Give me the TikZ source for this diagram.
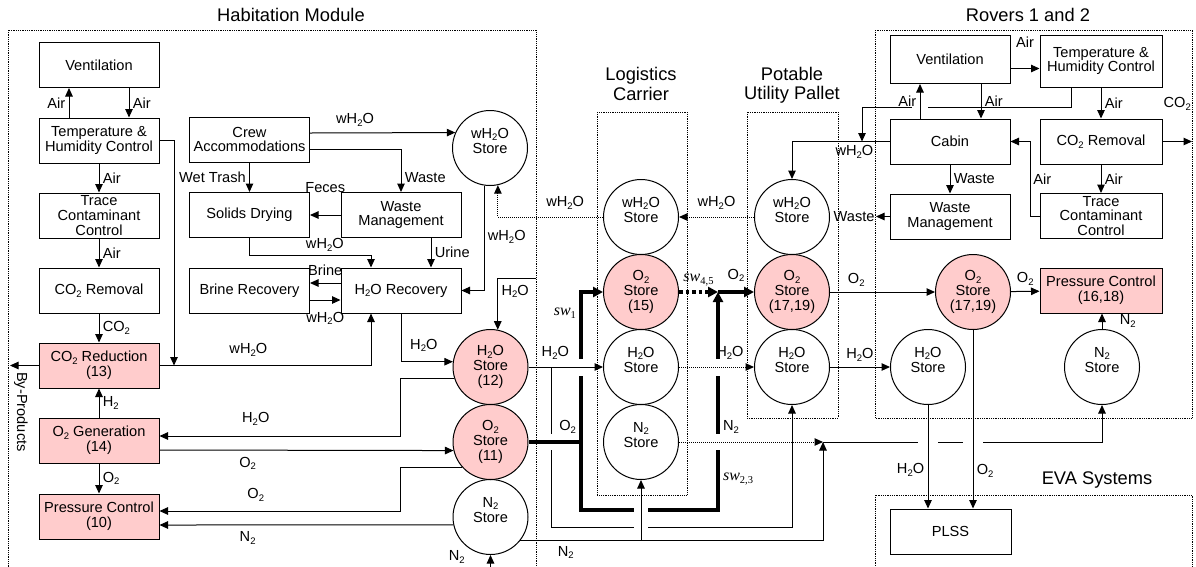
\documentclass[tikz,border=0pt]{standalone}
\usepackage{fontspec}
\setmainfont{Liberation Sans}
\newfontfamily\swfont{Liberation Serif}
\usepackage{tikz}
\usetikzlibrary{arrows.meta}

\definecolor{rose}{RGB}{255,204,204}

% Indices chimiques et interrupteurs
\newcommand{\ind}[1]{\raisebox{-0.35ex}{\fontsize{9.5}{9.5}\selectfont #1}}
\newcommand{\eau}{H\ind{2}O}
\newcommand{\eaug}{wH\ind{2}O}
\newcommand{\oxy}{O\ind{2}}
\newcommand{\azote}{N\ind{2}}
\newcommand{\cdeux}{CO\ind{2}}
\newcommand{\hdeux}{H\ind{2}}
\newcommand{\sw}[1]{{\swfont\itshape\fontsize{16}{16}\selectfont sw}\raisebox{-0.4ex}{\swfont\fontsize{10.5}{10.5}\selectfont #1}}

\tikzset{
  boite/.style={draw, line width=1pt, minimum width=120pt, minimum height=45pt, align=center, inner sep=0pt},
  boiterose/.style={boite, fill=rose},
  stock/.style={circle, draw, line width=1pt, minimum size=75pt, inner sep=0pt, align=center},
  stockrose/.style={stock, fill=rose},
  zone/.style={draw, densely dotted, line width=0.8pt},
  titre/.style={align=center, font=\fontsize{18.3}{19.5}\selectfont},
  lien/.style={line width=1pt, -{Triangle[length=8.5pt,width=7.5pt]}},
  pointille/.style={lien, densely dotted},
  epais/.style={line width=3.5pt},
  lienepais/.style={epais, -{Triangle[length=10pt,width=10pt]}},
  tiretepais/.style={lienepais, dash pattern=on 3.5pt off 3pt},
  coupure/.style={draw=white, line width=5pt},
}

\begin{document}
\begin{tikzpicture}[x=1pt, y=-1pt, font=\fontsize{14.6}{14.9}\selectfont]
    \useasboundingbox (0,0) rectangle (1196,566);

    % Module d'habitation
    \node[titre] (thab) at (291,15) {Habitation Module};
    \draw[zone] (8,30) rectangle (536,600);

    \node[boite] (vent) at (99,65) {Ventilation};
    \node[boite] (temp) at (99,140.5) {Temperature \&\\Humidity Control};
    \node[boite] (trace) at (99,215.5) {Trace\\Contaminant\\Control};
    \node[boite] (corem) at (99,290.5) {\cdeux{} Removal};
    \node[boiterose] (cored) at (99,365.5) {\cdeux{} Reduction\\(13)};
    \node[boiterose] (ogen) at (99,440.5) {\oxy{} Generation\\(14)};
    \node[boiterose] (pres) at (99,516.5) {Pressure Control\\(10)};

    \node[boite] (crew) at (249.5,139.5) {Crew\\Accommodations};
    \node[boite] (solid) at (249.5,215) {Solids Drying};
    \node[boite] (dech) at (401,215) {Waste\\Management};
    \node[boite] (saum) at (249.5,290.5) {Brine Recovery};
    \node[boite] (recup) at (401,290.5) {\eau{} Recovery};

    \node[stock] (wst) at (490,148) {\eaug\\Store\\\mbox{}};
    \node[stockrose] (h12) at (490.5,367) {\eau\\Store\\(12)};
    \node[stockrose] (o11) at (490.5,442) {\oxy\\Store\\(11)};
    \node[stock] (n2h) at (490.5,517) {\azote\\Store\\\mbox{}};

    % Boucle d'air
    \draw[lien] ([xshift=-30pt]temp.north) -- ([xshift=-30pt]vent.south) node[midway,left]{Air};
    \draw[lien] ([xshift=30pt]vent.south) -- ([xshift=30pt]temp.north) node[midway,right]{Air};
    \draw[lien] (temp) -- (trace) node[midway,right]{Air};
    \draw[lien] (trace) -- (corem) node[midway,right]{Air};
    \draw[lien] (corem) -- (cored) node[midway,right]{\cdeux};
    \draw[lien] (ogen) -- (cored) node[midway,right]{\hdeux};
    \draw[lien] (ogen) -- (pres) node[midway,right]{\oxy};

    \coordinate (bp) at (10,365.5);
    \draw[lien] (cored.west) -- (bp);
    \node[rotate=-90] (sousprod) at (21,412) {By-Products};

    \coordinate (jt) at (174,365.5);
    \draw[lien] (temp.east) -| (jt);
    \draw[lien] (cored.east) -| ([xshift=-30pt]recup.south) node[pos=0.21, above=5pt]{\eaug};

    % Boucle de l'eau
    \draw[lien] ([yshift=6.5pt]crew.east) -- (wst.156) node[pos=0.31, above=3pt]{\eaug};
    \draw[lien] ([yshift=-9.5pt]crew.east) -| (dech.north) node[pos=0.83, right]{Waste};
    \draw[lien] (crew) -- (solid) node[midway, left]{Wet Trash};
    \draw[lien] (dech) -- (solid) node[midway, above=19pt]{Feces};
    \draw[lien] (solid.south) -- ++(0,17) -| ([xshift=-30pt]recup.north) node[pos=0.31, above]{\eaug};
    \draw[lien] ([xshift=30pt]dech.south) -- ([xshift=30pt]recup.north) node[midway, right]{Urine};
    \draw[lien] ([yshift=7.5pt]recup.west) -- ([yshift=7.5pt]saum.east) node[midway, above=4pt]{Brine};
    \draw[lien] ([yshift=-9.5pt]saum.east) -- ([yshift=-9.5pt]recup.west) node[midway, below=8pt]{\eaug};
    \draw[lien] (wst.261) |- (recup.east) node[pos=0.245, right]{\eaug};
    \draw[lien] (recup.south) |- (h12.172) node[pos=0.72, above=6pt]{\eau};

    \coordinate (eh) at (536,278);
    \draw[lien] (eh) -| (h12.79) node[pos=0.63, right]{\eau};

    % Vers les stocks
    \draw[lien] (h12.197) -- ++(-54,0) |- ([yshift=4.5pt]ogen.east) node[pos=0.8, above=7pt]{\eau};
    \draw[lien] ([yshift=-9.5pt]ogen.east) -- (o11.193) node[pos=0.3, below=3pt]{\oxy};
    \draw[lien] (o11.222) -- ++(-62,0) |- ([yshift=5.5pt]pres.east) node[pos=0.8, above=6pt]{\oxy};
    \draw[lien] (n2h.192) -- ([yshift=-8.5pt]pres.east) node[pos=0.7, below=3pt]{\azote};

    \coordinate (en) at (490.5,575);
    \draw[lien] (en) -- (n2h.south) node[pos=0.9, left=22pt]{\azote};

    % Logistics Carrier
    \node[titre] (tlc) at (641,84) {Logistics\\Carrier};
    \draw[zone] (597,112) rectangle (687,495);
    \node[stock] (wlc) at (641,217) {\eaug\\Store\\\mbox{}};
    \node[stockrose] (o15) at (641,292) {\oxy\\Store\\(15)};
    \node[stock] (hlc) at (641,367) {\eau\\Store\\\mbox{}};
    \node[stock] (nlc) at (641,442) {\azote\\Store\\\mbox{}};

    % Potable Utility Pallet
    \node[titre] (tpup) at (792,85.5) {Potable\\Utility Pallet};
    \draw[zone] (747,112) rectangle (838,418);
    \node[stock] (wpup) at (792,217) {\eaug\\Store\\\mbox{}};
    \node[stockrose] (opup) at (792,292) {\oxy\\Store\\(17,19)};
    \node[stock] (hpup) at (792,367) {\eau\\Store\\\mbox{}};

    \draw[pointille] (wpup) -- (wlc) node[midway, above=4pt]{\eaug};
    \draw[pointille] (wlc.west) -| (wst.282) node[pos=0.18, above=4pt]{\eaug};

    % Interrupteurs et conduites croisees
    \coordinate (c1) at (581,442);
    \coordinate (c2) at (718,510);
    \coordinate (sw45) at (718,292);
    \coordinate (jh) at (551,367);
    \coordinate (jb) at (551,527);
    \coordinate (jn) at (823,442);

    \draw[lien] (jh) -- (jb) -| (hpup.south);
    \draw[coupure] (551,434) -- (551,450);

    \draw[epais] (o11.east) -- (c1);
    \draw[lienepais] (c1) |- (o15.west) node[pos=0.05, left]{\oxy} node[pos=0.43, left]{\sw{1}};
    \draw[lienepais] (c1) |- (c2) -- (sw45) node[pos=0.38, right]{\azote} node[pos=0.14, right]{\sw{2,3}};
    \draw[tiretepais] (o15) -- (sw45) node[midway, above=1pt]{\sw{4,5}};
    \draw[lienepais] (sw45) -- (opup) node[midway, above=5pt]{\oxy};

    \draw[coupure] (581,359) -- (581,376);
    \draw[coupure] (718,359) -- (718,376);
    \draw[coupure] (718,434) -- (718,450);
    \draw[coupure] (634,510) -- (648,510);
    \draw[coupure] (634,527) -- (648,527);

    \draw[lien] (h12) -- (hlc) node[pos=0.36, above=4pt]{\eau};
    \draw[pointille] (hlc) -- (hpup) node[pos=0.68, above=4pt]{\eau};
    \draw[lien] (n2h.322) -| (jn) node[pos=0.075, below=2pt]{\azote};
    \draw[lien] (nlc.south |- n2h.322) -- (nlc.south);
    \draw[pointille] (nlc) -- (jn);

    % Rovers 1 et 2
    \node[titre] (trov) at (1028,15) {Rovers 1 and 2};
    \draw[zone] (875,30) rectangle (1192,418);
    \node[boite, minimum height=48pt] (rvent) at (950,59.5) {Ventilation};
    \node[boite, minimum width=122pt, minimum height=52pt] (rtemp) at (1101,61) {Temperature \&\\Humidity Control};
    \node[boite] (cabin) at (950,141.5) {Cabin};
    \node[boite, minimum width=122pt] (rco2) at (1101,141.5) {\cdeux{} Removal};
    \node[boite] (rdech) at (950,216.5) {Waste\\Management};
    \node[boite, minimum width=122pt] (rtrace) at (1101,216) {Trace\\Contaminant\\Control};
    \node[boiterose, minimum width=122pt] (pres2) at (1101,290.5) {Pressure Control\\(16,18)};
    \node[stockrose] (orov) at (973,292) {\oxy\\Store\\(17,19)};
    \node[stock] (hrov) at (928,367) {\eau\\Store\\\mbox{}};
    \node[stock] (nrov) at (1102,367) {\azote\\Store\\\mbox{}};

    \coordinate (jw) at (862,141.5);
    \draw[lien] ([xshift=-30pt]rtemp.south) -- ++(0,20) -| (jw);
    \draw[coupure] (912,107) -- (928,107);

    \draw[lien] ([yshift=-9pt]rvent.east) -- ([yshift=-9pt]rvent.east -| rtemp.west) node[midway, above=17pt]{Air};
    \draw[lien] ([xshift=-30pt]cabin.north) -- ([xshift=-30pt]rvent.south) node[midway, left]{Air};
    \draw[lien] ([xshift=31pt]rvent.south) -- ([xshift=31pt]cabin.north) node[midway, right]{Air};
    \draw[lien] (cabin.west) -| (wpup.north) node[pos=0.18, below]{\eaug};
    \draw[lien] (cabin) -- (rdech) node[midway, right]{Waste};

    \coordinate (rw) at (876,216.5);
    \draw[lien] (rdech.west) -- (rw) node[left, inner sep=1pt]{Waste};

    \draw[lien] (rtemp) -- (rco2) node[midway, right]{Air};
    \coordinate (rc) at (1192,141.5);
    \draw[lien] (rco2.east) -- (rc) node[midway, above=27pt]{\cdeux};
    \draw[lien] (rco2) -- (rtrace) node[midway, right]{Air};
    \draw[lien] (rtrace.west) -- ++(-9,0) |- (cabin.east) node[pos=0.25, right=-1pt]{Air};

    \draw[lien] (opup) -- (orov) node[pos=0.25, above=2pt]{\oxy};
    \draw[lien] (orov) -- (pres2) node[midway, above=2pt]{\oxy};
    \draw[lien] (nrov.north) -- (nrov.north |- pres2.south) node[midway, right=14pt]{\azote};
    \draw[lien] (hpup) -- (hrov) node[midway, above=2pt]{\eau};

    % Systemes EVA
    \node[titre] (teva) at (1097,480) {EVA Systems};
    \draw[zone] (875,495) rectangle (1192,600);
    \node[boite, minimum width=121pt] (plss) at (950.5,531.5) {PLSS};

    \draw[lien] (jn) -| (nrov.south);
    \draw[coupure] (918,442) -- (938,442);
    \draw[coupure] (963,442) -- (983,442);
    \draw[lien] (hrov) -- (hrov |- plss.north) node[pos=0.63, left]{\eau};
    \draw[lien] (orov) -- (orov |- plss.north) node[pos=0.79, right]{\oxy};
\end{tikzpicture}
\end{document}
